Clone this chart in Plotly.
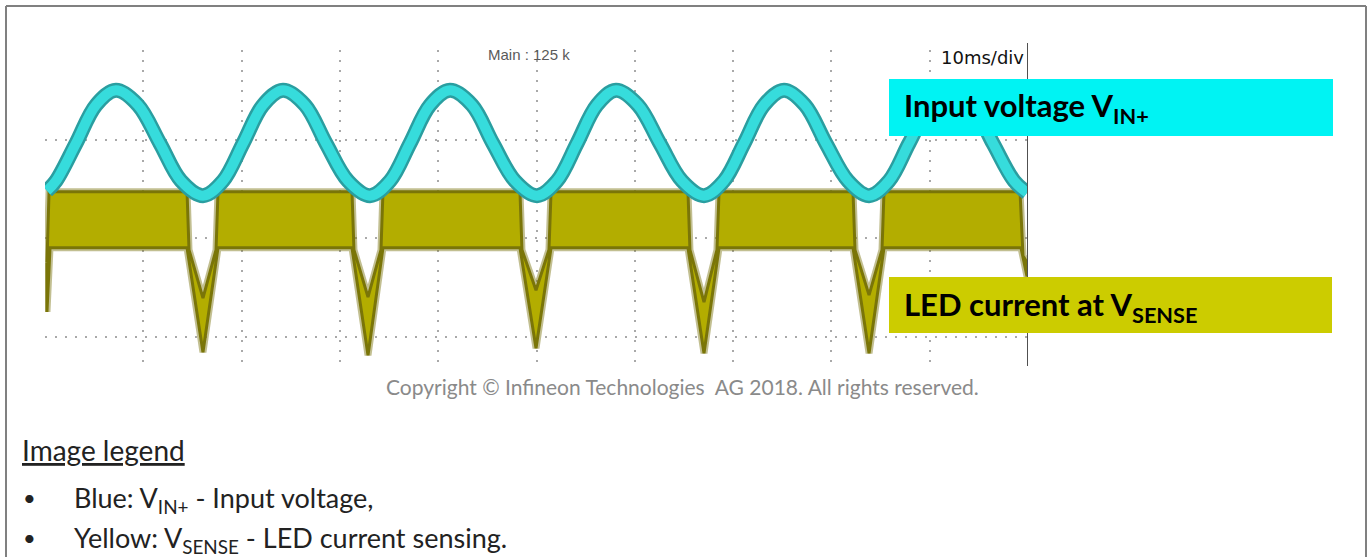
import plotly.graph_objects as go

W, H = 1371, 557

# ---------------- data read from the oscilloscope screen ----------------
# time in ms (10 ms/div, 0 = left edge of screen), level in divisions (0 = centre graticule line)

# Blue: V_IN+ (centre of the noisy trace)
blue_t = [0.20, 1.12, 3.15, 5.19, 7.22, 9.46, 11.70, 13.84, 16.07, 18.11, 20.14, 22.18,
          24.21, 26.45, 28.59, 30.82, 33.06, 35.10, 37.13, 39.17, 41.20, 43.44, 45.57,
          47.81, 50.05, 52.09, 54.12, 56.15, 58.09, 60.32, 62.56, 64.80, 67.04, 69.07,
          71.11, 73.14, 75.18, 77.31, 79.45, 81.69, 83.83, 85.86, 87.89, 90.03, 92.07,
          94.30, 96.44, 98.58, 99.90]
blue_v = [0.48, 0.58, 0.96, 1.35, 1.50, 1.35, 0.96, 0.58, 0.43, 0.58, 0.96, 1.35,
          1.50, 1.35, 0.96, 0.58, 0.43, 0.58, 0.96, 1.35, 1.50, 1.35, 0.96,
          0.58, 0.43, 0.58, 0.96, 1.35, 1.50, 1.35, 0.96, 0.58, 0.43, 0.58,
          0.96, 1.35, 1.50, 1.35, 0.96, 0.58, 0.43, 0.58, 0.96, 1.35, 1.50,
          1.35, 0.96, 0.58, 0.46]

# Yellow: V_SENSE (noisy band with V-shaped dips)
band_top = 0.47
band_bottom = -0.10
wall_level = -0.12
dip_left = [14.45, 31.23, 48.32, 65.41, 82.20]
dip_inner_left = [14.65, 31.43, 48.52, 65.61, 82.40]
dip_center = [16.07, 32.86, 49.95, 67.04, 83.83]
dip_inner_right = [17.40, 34.18, 51.27, 68.36, 85.15]
dip_right = [17.60, 34.38, 51.48, 68.57, 85.35]
dip_inner_tip = [-0.61, -0.60, -0.53, -0.65, -0.58]
dip_outer_tip = [-1.16, -1.19, -1.12, -1.17, -1.17]
start_t = [0.20, 0.41, 0.51]
start_upper = -0.25
start_lower = -0.75
end_t = [99.19, 99.29, 99.49, 99.90]
end_upper = [-0.18, -0.25]
end_lower = -0.39

x_ticks = [10, 20, 30, 40, 50, 60, 70, 80, 90]
y_ticks = [-1, 0, 1]

# ---------------- build yellow polygon ----------------
ux = [start_t[0], start_t[1]]
uy = [start_upper, band_top]
for i in range(len(dip_center)):
    ux += [dip_left[i], dip_inner_left[i], dip_center[i], dip_inner_right[i], dip_right[i]]
    uy += [band_top, wall_level, dip_inner_tip[i], wall_level, band_top]
ux += [end_t[0], end_t[2], end_t[3]]
uy += [band_top, end_upper[0], end_upper[1]]

lx = [start_t[0], start_t[2]]
ly = [start_lower, band_bottom]
for i in range(len(dip_center)):
    lx += [dip_left[i], dip_center[i], dip_right[i]]
    ly += [band_bottom, dip_outer_tip[i], band_bottom]
lx += [end_t[1], end_t[3]]
ly += [band_bottom, end_lower]

poly_x = ux + lx[::-1] + [ux[0]]
poly_y = uy + ly[::-1] + [uy[0]]

fig = go.Figure()
# soft noisy-looking halo around the yellow band
fig.add_trace(go.Scatter(x=poly_x, y=poly_y, mode="lines",
                         line=dict(color="rgba(120,114,10,0.45)", width=7),
                         hoverinfo="skip", showlegend=False))
fig.add_trace(go.Scatter(x=poly_x, y=poly_y, mode="lines", fill="toself",
                         fillcolor="#b3ad00", line=dict(color="#7a7508", width=3),
                         hoverinfo="skip", showlegend=False))
fig.add_trace(go.Scatter(x=blue_t, y=blue_v, mode="lines",
                         line=dict(color="#2a9ea0", width=15, shape="spline", smoothing=1.0),
                         hoverinfo="skip", showlegend=False))
fig.add_trace(go.Scatter(x=blue_t, y=blue_v, mode="lines",
                         line=dict(color="#36dcdc", width=10, shape="spline", smoothing=1.0),
                         hoverinfo="skip", showlegend=False))

def px(xp):
    return xp / W

def py(yp):
    return 1 - yp / H

fig.update_layout(
    width=W, height=H,
    margin=dict(l=0, r=0, t=0, b=0),
    paper_bgcolor="white", plot_bgcolor="white",
    xaxis=dict(domain=[px(45), px(1028)], range=[0, 100], tickvals=x_ticks,
               showticklabels=False, showgrid=True, gridcolor="#a9a9a9", gridwidth=2,
               griddash="2px,8px", zeroline=False, showline=False, ticks="", fixedrange=True),
    yaxis=dict(domain=[py(367), py(50)], range=[-1.3096, 1.9086], tickvals=y_ticks,
               showticklabels=False, showgrid=True, gridcolor="#a9a9a9", gridwidth=2,
               griddash="2px,8px", zeroline=False, showline=False, ticks="", fixedrange=True),
    font=dict(family="Lato"),
    hovermode=False,
)

shapes = [
    # outer document frame
    dict(type="line", xref="paper", yref="paper", x0=px(6), x1=px(1366), y0=py(6), y1=py(6),
         line=dict(color="#808080", width=2)),
    dict(type="line", xref="paper", yref="paper", x0=px(6), x1=px(6), y0=py(6), y1=py(560),
         line=dict(color="#808080", width=2)),
    dict(type="line", xref="paper", yref="paper", x0=px(1366), x1=px(1366), y0=py(6), y1=py(560),
         line=dict(color="#808080", width=2)),
    # right edge of the scope screen
    dict(type="line", xref="x", yref="paper", x0=100, x1=100, y0=py(43), y1=py(366),
         line=dict(color="#505050", width=2)),
    # label boxes
    dict(type="rect", xref="paper", yref="paper", x0=px(889), x1=px(1333), y0=py(79), y1=py(136),
         fillcolor="#00f3f3", line=dict(width=0), layer="above"),
    dict(type="rect", xref="paper", yref="paper", x0=px(889), x1=px(1332), y0=py(277), y1=py(333),
         fillcolor="#cccc00", line=dict(width=0), layer="above"),
]
fig.update_layout(shapes=shapes)

ann = []
def add(text, x, y, size, color="#000", family="Lato", xanchor="left", yanchor="middle"):
    ann.append(dict(text=text, x=px(x), y=py(y), xref="paper", yref="paper",
                    xanchor=xanchor, yanchor=yanchor, showarrow=False,
                    font=dict(family=family, size=size, color=color)))

add("Main : 125 k", 529, 54, 15, "#5a5a5a", "Liberation Sans", xanchor="center")
add("10ms/div", 1026, 58, 18, "#111111", "DejaVu Sans", xanchor="right")
add("<b>Input voltage V<sub>IN+</sub></b>", 902, 108, 31)
add("<b>LED current at V<sub>SENSE</sub></b>", 902, 306, 31)
add("Copyright © Infineon Technologies  AG 2018. All rights reserved.", 682, 386, 21,
    "#8a8a8a", xanchor="center")
add("<u>Image legend</u>", 20, 450, 28, "#222222")
add("•", 21, 497, 22, "#222222")
add("Blue: V<sub>IN+</sub> - Input voltage,", 72, 499, 27, "#222222")
add("•", 21, 537, 22, "#222222")
add("Yellow: V<sub>SENSE</sub> - LED current sensing.", 72, 539, 27, "#222222")
fig.update_layout(annotations=ann)

fig.write_html("out.html", config={"displayModeBar": False, "staticPlot": True},
               post_script="document.body.style.margin='0px';")
